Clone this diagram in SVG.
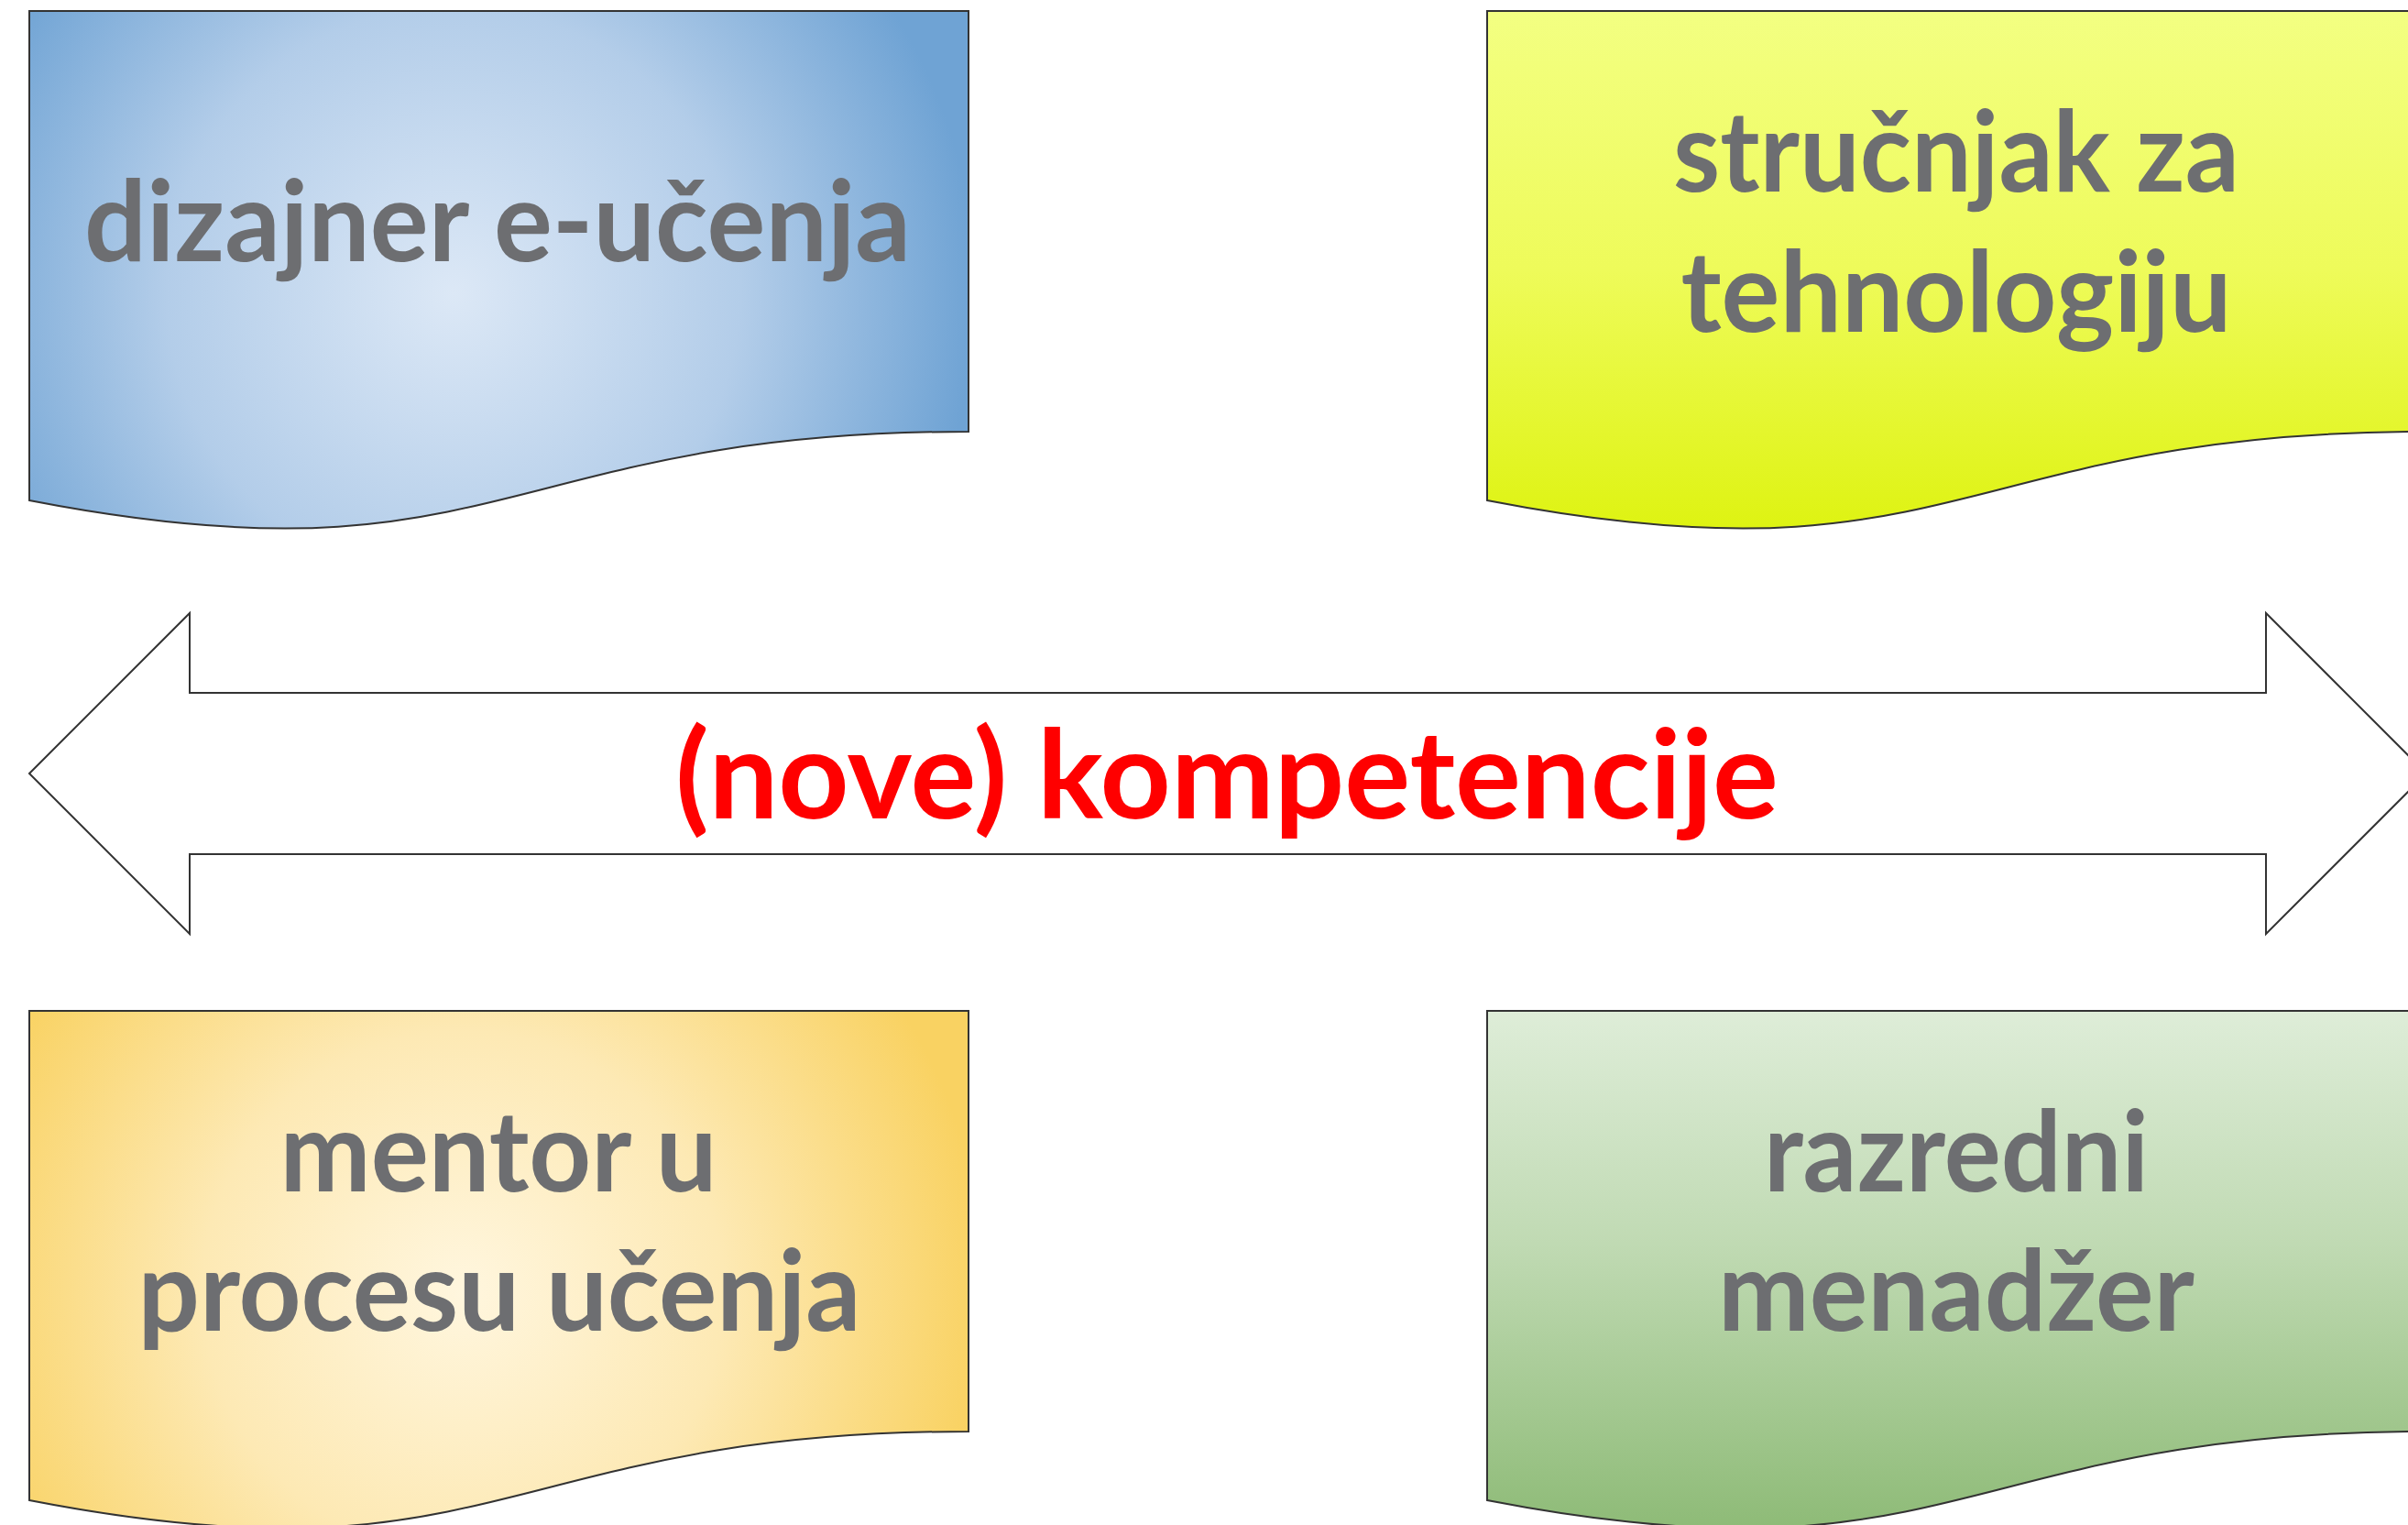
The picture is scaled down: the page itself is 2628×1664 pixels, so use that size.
<svg xmlns="http://www.w3.org/2000/svg" width="2628" height="1664" viewBox="0 0 2628 1664">
<style>
.doc{stroke:#333333;stroke-width:2}
.lbl{font-family:Lato,"Open Sans","Noto Sans",sans-serif;font-weight:bold;fill:#6d6e71;text-anchor:middle}
.red{font-family:Lato,"Open Sans","Noto Sans",sans-serif;font-weight:bold;fill:#ff0000;text-anchor:middle}
</style>
<defs>
<radialGradient id="gBlue" gradientUnits="userSpaceOnUse" cx="495" cy="320" r="570">
<stop offset="0" stop-color="#dce8f6"/><stop offset="0.55" stop-color="#b3cde9"/><stop offset="1" stop-color="#6fa3d4"/>
</radialGradient>
<linearGradient id="gYellow" x1="0" y1="0" x2="0" y2="1">
<stop offset="0" stop-color="#f3ff82"/><stop offset="0.5" stop-color="#eefb5a"/><stop offset="1" stop-color="#def312"/>
</linearGradient>
<radialGradient id="gOrange" gradientUnits="userSpaceOnUse" cx="505" cy="1410" r="570">
<stop offset="0" stop-color="#fff6de"/><stop offset="0.5" stop-color="#fde9b4"/><stop offset="1" stop-color="#f9d262"/>
</radialGradient>
<linearGradient id="gGreen" x1="0" y1="0" x2="0" y2="1">
<stop offset="0" stop-color="#deedd8"/><stop offset="0.45" stop-color="#c0dab3"/><stop offset="1" stop-color="#8ebb77"/>
</linearGradient>
</defs>
<g id="connectors">
<polygon points="32,844 207,669 207,756 2473,756 2473,669 2648,844 2473,1019 2473,932 207,932 207,1019" fill="#ffffff" stroke="#333333" stroke-width="2"/>
</g>
<g id="label-kompetencije">
<text class="red" x="1339" y="893" font-size="134" textLength="1204" lengthAdjust="spacingAndGlyphs">(nove) kompetencije</text>
</g>
<g id="node-dizajner">
<path class="doc" fill="url(#gBlue)" d="M32,12 H1057 V471 C544.5,471 544.5,645.5 32,546 Z"/>
<text class="lbl" x="543" y="285" font-size="123" textLength="902" lengthAdjust="spacingAndGlyphs">dizajner e-učenja</text>
</g>
<g id="node-strucnjak">
<path class="doc" fill="url(#gYellow)" d="M1623,12 H2648 V471 C2135.5,471 2135.5,645.5 1623,546 Z"/>
<text class="lbl" x="2135" y="209" font-size="123" textLength="618" lengthAdjust="spacingAndGlyphs">stručnjak za</text>
<text class="lbl" x="2135" y="362" font-size="123" textLength="601" lengthAdjust="spacingAndGlyphs">tehnologiju</text>
</g>
<g id="node-mentor">
<path class="doc" fill="url(#gOrange)" d="M32,1103 H1057 V1562 C544.5,1562 544.5,1736.5 32,1637 Z"/>
<text class="lbl" x="544" y="1300" font-size="123" textLength="477" lengthAdjust="spacingAndGlyphs">mentor u</text>
<text class="lbl" x="545" y="1452" font-size="123" textLength="789" lengthAdjust="spacingAndGlyphs">procesu učenja</text>
</g>
<g id="node-razredni">
<path class="doc" fill="url(#gGreen)" d="M1623,1103 H2648 V1562 C2135.5,1562 2135.5,1736.5 1623,1637 Z"/>
<text class="lbl" x="2135" y="1300" font-size="123" textLength="420" lengthAdjust="spacingAndGlyphs">razredni</text>
<text class="lbl" x="2135" y="1452" font-size="123" textLength="520" lengthAdjust="spacingAndGlyphs">menadžer</text>
</g>
</svg>
